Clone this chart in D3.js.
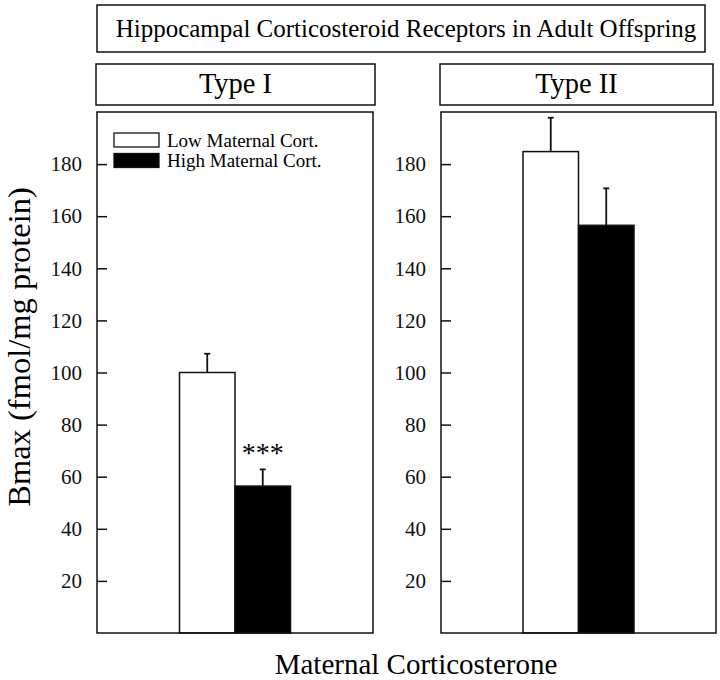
<!DOCTYPE html>
<html>
<head>
<meta charset="utf-8">
<script src="https://cdn.jsdelivr.net/npm/d3@7"></script>
<style>
  html, body { margin: 0; padding: 0; background: #fff; }
  svg { display: block; font-family: "Liberation Serif", "Times New Roman", serif; }
</style>
</head>
<body>
<svg id="chart" width="720" height="680"></svg>
<script>
// ---- data ----
const chartTitle = "Hippocampal Corticosteroid Receptors in Adult Offspring";
const panels = ["Type I", "Type II"];
const groups = ["Low Maternal Cort.", "High Maternal Cort."];
const typeIMeans = [100, 56.4];
const typeIErrors = [7.2, 6.4];
const typeIIMeans = [184.8, 156.5];
const typeIIErrors = [13, 14.2];
const yTicks = [20, 40, 60, 80, 100, 120, 140, 160, 180];
const significance = ["", "***"];
const yLabel = "Bmax (fmol/mg protein)";
const xLabel = "Maternal Corticosterone";

const means = [typeIMeans, typeIIMeans];
const errors = [typeIErrors, typeIIErrors];
const fills = ["#fff", "#000"];

// ---- layout ----
const svg = d3.select("#chart");
const stroke = "#111";
const panelTop = 112, panelBottom = 633;
const panelX = [[97, 373], [441, 716]];
const headerBoxes = [[96, 64, 375, 105], [440, 64, 713, 105]];
const barW = 55.5;

const y = d3.scaleLinear().domain([0, 200]).range([panelBottom, panelTop]);

// title box
svg.append("rect").attr("x", 97).attr("y", 5).attr("width", 608).attr("height", 47)
  .attr("fill", "none").attr("stroke", stroke).attr("stroke-width", 1.5);
svg.append("text").attr("x", 406).attr("y", 37).attr("text-anchor", "middle")
  .attr("font-size", 25).text(chartTitle);

panels.forEach((p, i) => {
  const [x0, x1] = panelX[i];
  const cx = (x0 + x1) / 2;
  const hb = headerBoxes[i];
  svg.append("rect").attr("x", hb[0]).attr("y", hb[1]).attr("width", hb[2] - hb[0]).attr("height", hb[3] - hb[1])
    .attr("fill", "none").attr("stroke", stroke).attr("stroke-width", 1.5);
  svg.append("text").attr("x", (hb[0] + hb[2]) / 2).attr("y", 93).attr("text-anchor", "middle")
    .attr("font-size", 28.5).text(p);

  const x = d3.scaleBand().domain(groups).range([cx - barW, cx + barW]).padding(0);

  const g = svg.append("g");
  // bars
  g.selectAll("rect.bar").data(groups).enter().append("rect")
    .attr("class", "bar")
    .attr("x", d => x(d))
    .attr("y", (d, j) => y(means[i][j]))
    .attr("width", x.bandwidth())
    .attr("height", (d, j) => y(0) - y(means[i][j]))
    .attr("fill", (d, j) => fills[j])
    .attr("stroke", stroke).attr("stroke-width", 1.5);

  // error bars
  groups.forEach((d, j) => {
    const bx = x(d) + x.bandwidth() / 2;
    const top = y(means[i][j] + errors[i][j]);
    g.append("line").attr("x1", bx).attr("x2", bx)
      .attr("y1", y(means[i][j])).attr("y2", top)
      .attr("stroke", stroke).attr("stroke-width", 1.8);
    g.append("line").attr("x1", bx - 3).attr("x2", bx + 3)
      .attr("y1", top).attr("y2", top)
      .attr("stroke", stroke).attr("stroke-width", 1.8);
    if (i === 0 && significance[j]) {
      g.append("text").attr("x", bx).attr("y", top - 7)
        .attr("text-anchor", "middle").attr("font-size", 28).text(significance[j]);
    }
  });

  // panel frame
  svg.append("rect").attr("x", x0).attr("y", panelTop).attr("width", x1 - x0).attr("height", panelBottom - panelTop)
    .attr("fill", "none").attr("stroke", stroke).attr("stroke-width", 1.5);

  // y axis
  const ax = svg.append("g").attr("transform", `translate(${x0},0)`)
    .call(d3.axisLeft(y).tickValues(yTicks).tickSize(-10).tickPadding(15).tickFormat(d3.format("d")));
  ax.select(".domain").remove();
  ax.selectAll(".tick line").attr("stroke", stroke).attr("stroke-width", 1.5);
  ax.selectAll(".tick text").attr("font-size", 21).attr("fill", "#111")
    .attr("font-family", "'Liberation Serif', 'Times New Roman', serif");
});

// legend (inside Type I panel)
const legend = svg.append("g");
groups.forEach((d, j) => {
  const ly = 133 + j * 20.5;
  legend.append("rect").attr("x", 114).attr("y", ly).attr("width", 45).attr("height", 14)
    .attr("fill", fills[j]).attr("stroke", stroke).attr("stroke-width", 1.3);
  legend.append("text").attr("x", 167).attr("y", ly + 13.5).attr("font-size", 19).text(d);
});

// axis labels
svg.append("text").attr("transform", "translate(30,347) rotate(-90)")
  .attr("text-anchor", "middle").attr("font-size", 32.5).text(yLabel);
svg.append("text").attr("x", 416).attr("y", 674).attr("text-anchor", "middle")
  .attr("font-size", 29).text(xLabel);
</script>
</body>
</html>
